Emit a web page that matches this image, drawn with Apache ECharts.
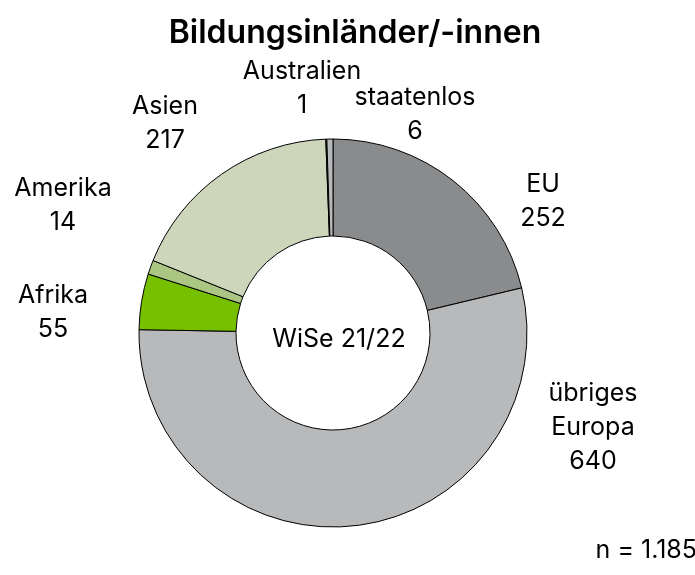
<!DOCTYPE html>
<html>
<head>
<meta charset="utf-8">
<script src="https://cdn.jsdelivr.net/npm/echarts@6/dist/echarts.min.js"></script>
<style>
  html, body { margin: 0; padding: 0; background: #fff; }
  #chart { width: 695px; height: 575px; }
</style>
</head>
<body>
<div id="chart"></div>
<script>
// Daten
const names = ['EU', 'übriges Europa', 'Afrika', 'Amerika', 'Asien', 'Australien', 'staatenlos']
const values = [252, 640, 55, 14, 217, 1, 6]
const colors = ['#8a8b8d', '#b8b9bb', '#76c000', '#aac682', '#cdd6bb', '#3a3a3a', '#b8b9bb']

// Label-Positionen (Mittelpunkt)
const labelPos = [
  [543, 201], [593, 427], [53, 312], [63, 205], [165, 123], [302, 88], [415, 114]
]

const font = 'Inter'
const chart = echarts.init(document.getElementById('chart'))

chart.setOption({
  animation: false,
  title: [
    {
      text: 'Bildungsinländer/-innen',
      left: 350,
      top: 28,
      textAlign: 'center',
      textVerticalAlign: 'middle',
      textStyle: { fontFamily: font, fontSize: 32, fontWeight: 600, color: '#000' },
    },
    {
      text: 'WiSe 21/22',
      left: 334,
      top: 334,
      textAlign: 'center',
      textVerticalAlign: 'middle',
      textStyle: { fontFamily: font, fontSize: 25, fontWeight: 'normal', color: '#000' },
    },
    {
      text: 'n = 1.185',
      left: 692,
      top: 545,
      textAlign: 'right',
      textVerticalAlign: 'middle',
      textStyle: { fontFamily: font, fontSize: 25, fontWeight: 'normal', color: '#000' },
    },
  ],
  series: [
    {
      type: 'pie',
      center: [333, 333],
      radius: [97, 194],
      startAngle: 90,
      clockwise: true,
      silent: true,
      itemStyle: { borderColor: '#000', borderWidth: 1 },
      label: {
        show: true,
        position: 'outside',
        overflow: 'none',
        fontFamily: font,
        fontSize: 25,
        lineHeight: 34,
        color: '#000',
        align: 'center',
        formatter: (p) => p.name.replace(' ', '\n') + '\n' + p.value,
      },
      labelLine: { show: false },
      labelLayout: (params) => {
        const pos = labelPos[params.dataIndex]
        return { x: pos[0], y: pos[1], align: 'center', verticalAlign: 'middle' }
      },
      data: names.map((n, i) => ({ name: n, value: values[i], itemStyle: { color: colors[i] } })),
    },
  ],
})
</script>
</body>
</html>
